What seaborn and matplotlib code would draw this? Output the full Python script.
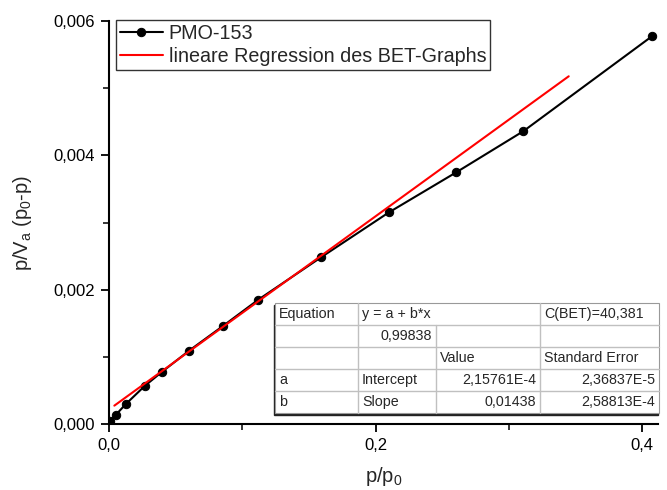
import numpy as np
import pandas as pd
import matplotlib
matplotlib.use("Agg")
import matplotlib.pyplot as plt
from matplotlib.ticker import FuncFormatter, MultipleLocator
import seaborn as sns

# BET data
p_rel = [0.0008, 0.005, 0.0128, 0.027, 0.040, 0.060, 0.0856, 0.112,
         0.159, 0.210, 0.2605, 0.311, 0.4077]
bet_y = [0.00004, 0.000134, 0.0003, 0.00057, 0.00078, 0.00109, 0.00146,
         0.00185, 0.00248, 0.00315, 0.003746, 0.00436, 0.005776]

# regression line
fit_a = 2.15761e-4
fit_b = 0.01438
fit_x = [0.004, 0.345]

table_rows = [
    ["Equation", "y = a + b*x", "", "C(BET)=40,381"],
    ["", "0,99838", "", ""],
    ["", "", "Value", "Standard Error"],
    ["a", "Intercept", "2,15761E-4", "2,36837E-5"],
    ["b", "Slope", "0,01438", "2,58813E-4"],
]

sns.set_style("ticks")
plt.rcParams['font.family'] = ['Liberation Sans', 'DejaVu Sans']
plt.rcParams['mathtext.default'] = 'regular'

df = pd.DataFrame({'x': p_rel, 'y': bet_y})
fit_df = pd.DataFrame({'x': fit_x, 'y': [fit_a + fit_b * v for v in fit_x]})

fig = plt.figure(figsize=(6.67, 4.9), dpi=100)
ax = fig.add_axes([109 / 667, 1 - 424 / 490, 549 / 667, 403 / 490])

sns.lineplot(data=df, x='x', y='y', ax=ax, color='black', marker='o',
             markersize=6, linewidth=1.5, markeredgecolor='black',
             label='PMO-153')
sns.lineplot(data=fit_df, x='x', y='y', ax=ax, color='red', linewidth=1.5,
             label='lineare Regression des BET-Graphs')

ax.set_xlim(0, 0.412)
ax.set_ylim(0, 0.006)
ax.xaxis.set_major_locator(MultipleLocator(0.2))
ax.xaxis.set_minor_locator(MultipleLocator(0.1))
ax.yaxis.set_major_locator(MultipleLocator(0.002))
ax.yaxis.set_minor_locator(MultipleLocator(0.001))
ax.xaxis.set_major_formatter(FuncFormatter(lambda v, p: f"{v:.1f}".replace('.', ',')))
ax.yaxis.set_major_formatter(FuncFormatter(lambda v, p: f"{v:.3f}".replace('.', ',')))
ax.tick_params(which='major', direction='out', length=6, width=1.3, labelsize=12,
               colors='black', pad=4)
ax.tick_params(which='minor', direction='out', length=4, width=1.3)
for s in ['top', 'right']:
    ax.spines[s].set_visible(False)
for s in ['left', 'bottom']:
    ax.spines[s].set_linewidth(1.5)
    ax.spines[s].set_color('black')

ax.set_xlabel(r'p/p$_0$', fontsize=14.5, labelpad=9)
ax.set_ylabel(r'p/V$_a$ (p$_0$-p)', fontsize=14.5, labelpad=14)

leg = ax.legend(loc='upper left', bbox_to_anchor=(0.012, 1.003), fontsize=14.2,
                frameon=True, fancybox=False, edgecolor='black',
                handlelength=2.2, borderpad=0.2, labelspacing=0.22,
                handletextpad=0.3, borderaxespad=0)
leg.get_frame().set_linewidth(1.0)

# fit parameter table, drawn in figure pixel space
col_x = [275, 358, 436, 540, 659]
row_y = [303, 325, 347, 369, 391, 413]
W, H = 667, 490


def fx(px):
    return px / W


def fy(py):
    return 1 - py / H


grey = '#c0c0c0'
tw = (col_x[-1] - col_x[0]) / W
th = (row_y[-1] - row_y[0]) / H
# dark shadow to the lower left, white body on top
fig.patches.append(plt.Rectangle((fx(col_x[0] - 1.5), fy(row_y[-1] + 1.5)), tw, th,
                                 transform=fig.transFigure, color='#222222', zorder=5))
fig.patches.append(plt.Rectangle((fx(col_x[0]), fy(row_y[-1])), tw, th,
                                 transform=fig.transFigure, facecolor='white',
                                 edgecolor='#999999', linewidth=0.8, zorder=6))
for yy in row_y[1:-1]:
    fig.add_artist(plt.Line2D([fx(col_x[0]), fx(col_x[-1])], [fy(yy), fy(yy)],
                              color=grey, linewidth=1.0, zorder=7))
for i, xx in enumerate(col_x[1:-1], start=1):
    top = row_y[1] if i == 2 else row_y[0]
    fig.add_artist(plt.Line2D([fx(xx), fx(xx)], [fy(top), fy(row_y[-1])],
                              color=grey, linewidth=1.0, zorder=7))

for r, row in enumerate(table_rows):
    yc = fy((row_y[r] + row_y[r + 1]) / 2)
    for c, txt in enumerate(row):
        if not txt:
            continue
        right = (r == 1 and c == 1) or (r >= 3 and c >= 2)
        if right:
            fig.text(fx(col_x[c + 1] - 4), yc, txt, ha='right', va='center',
                     fontsize=10.3, zorder=8)
        else:
            fig.text(fx(col_x[c] + 4), yc, txt, ha='left', va='center',
                     fontsize=10.3, zorder=8)

fig.savefig('out.png', dpi=100)
